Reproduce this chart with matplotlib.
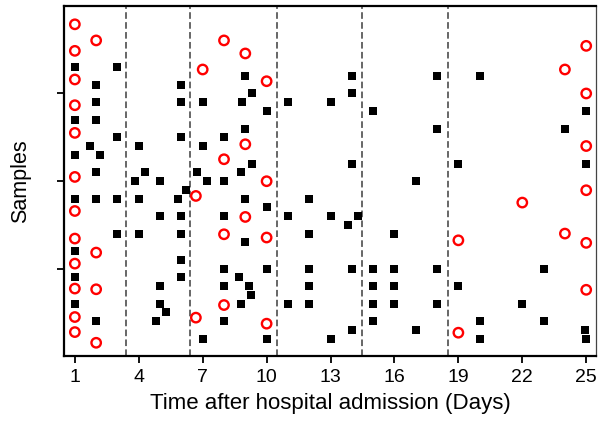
import numpy as np
import matplotlib
matplotlib.use('Agg')
import matplotlib.pyplot as plt

plt.rcParams['font.family'] = ['Liberation Sans', 'DejaVu Sans']

# black squares: (day, sample row)
sq_day = [1, 3,
          9, 14, 18, 20,
          2, 6,
          9.3, 14,
          2, 6, 7, 8.85, 11, 13,
          10, 15, 25,
          1, 2,
          9, 18, 24,
          3, 6, 8,
          1.7, 4, 7,
          2.17, 1,
          9.3, 14, 19, 25,
          2, 4.28, 6.71, 8.82,
          3.82, 5, 7.18, 8, 17,
          6.24,
          1, 2, 3, 4, 5.82, 9, 12,
          10,
          5, 6, 8, 11, 13, 14.29,
          13.83,
          3, 4, 6, 12, 16,
          9,
          1,
          6,
          8, 10, 12, 14, 15, 16, 18, 23,
          1, 6, 8.71,
          5, 8, 9.18, 12, 15, 16, 19,
          9.29,
          1, 5, 8.82, 11, 12, 15, 16, 18, 22,
          5.27,
          2, 4.83, 8, 15, 20, 23,
          14, 17, 24.93,
          7, 10, 13, 20, 25]
sq_row = [33, 33,
          32, 32, 32, 32,
          31, 31,
          30, 30,
          29, 29, 29, 29, 29, 29,
          28, 28, 28,
          27, 27,
          26, 26, 26,
          25, 25, 25,
          24, 24, 24,
          23, 23,
          22, 22, 22, 22,
          21, 21, 21, 21,
          20, 20, 20, 20, 20,
          19,
          18, 18, 18, 18, 18, 18, 18,
          17,
          16, 16, 16, 16, 16, 16,
          15,
          14, 14, 14, 14, 14,
          13,
          12,
          11,
          10, 10, 10, 10, 10, 10, 10, 10,
          9, 9, 9,
          8, 8, 8, 8, 8, 8, 8,
          7,
          6, 6, 6, 6, 6, 6, 6, 6, 6,
          5,
          4, 4, 4, 4, 4, 4,
          3, 3, 3,
          2, 2, 2, 2, 2]

# red open circles: (day, sample row)
circ_day = [1, 2, 1, 9, 8, 7, 1, 10, 1, 1, 9, 8, 1, 10,
            25, 24, 25, 25,
            1, 1, 2, 1, 1, 2, 1, 1, 2,
            6.68, 8, 9, 8, 6.68, 10, 10,
            25, 22, 24, 25, 19, 25, 19]
circ_row = [37.9, 36.06, 34.87, 34.57, 36.06, 32.74, 31.6, 31.4, 28.66, 25.5, 24.2, 22.49, 20.47, 19.98,
            35.44, 32.74, 30, 24.0,
            16.58, 13.43, 11.83, 10.57, 7.72, 7.64, 4.47, 2.75, 1.53,
            18.3, 13.92, 15.9, 5.84, 4.4, 13.55, 3.71,
            18.95, 17.54, 14, 12.94, 13.23, 7.58, 2.68]

phase_edges = [3.4, 6.4, 10.5, 14.5, 18.5]
day_ticks = [1, 4, 7, 10, 13, 16, 19, 22, 25]

fig = plt.figure(figsize=(6, 4.23), dpi=100)
ax = fig.add_axes([0.107, 0.158, 0.886, 0.828])

for xv in phase_edges:
    ax.axvline(xv, color='#666666', linestyle=(0, (3.4, 1.7)), linewidth=1.4, zorder=1)

ax.scatter(sq_day, sq_row, marker='s', s=40, color='black', linewidths=0, zorder=3)
ax.scatter(circ_day, circ_row, marker='o', s=46, facecolors='none',
           edgecolors='#ff0000', linewidths=1.7, zorder=4)

ax.set_xlim(0.5, 25.45)
ax.set_ylim(0, 40)
ax.set_xticks(day_ticks)
ax.set_yticks([10, 20, 30])
ax.set_yticklabels([])
ax.tick_params(axis='x', direction='out', length=5, width=1.3, labelsize=14, pad=4)
ax.tick_params(axis='y', direction='out', length=5, width=1.3)

for side in ['left', 'bottom', 'top']:
    ax.spines[side].set_linewidth(1.6)
ax.spines['right'].set_linewidth(0.9)
ax.spines['right'].set_color('#444444')

ax.set_xlabel('Time after hospital admission (Days)', fontsize=16, labelpad=5)
ax.set_ylabel('Samples', fontsize=15.5, labelpad=15)

fig.savefig('out.png', dpi=100)
